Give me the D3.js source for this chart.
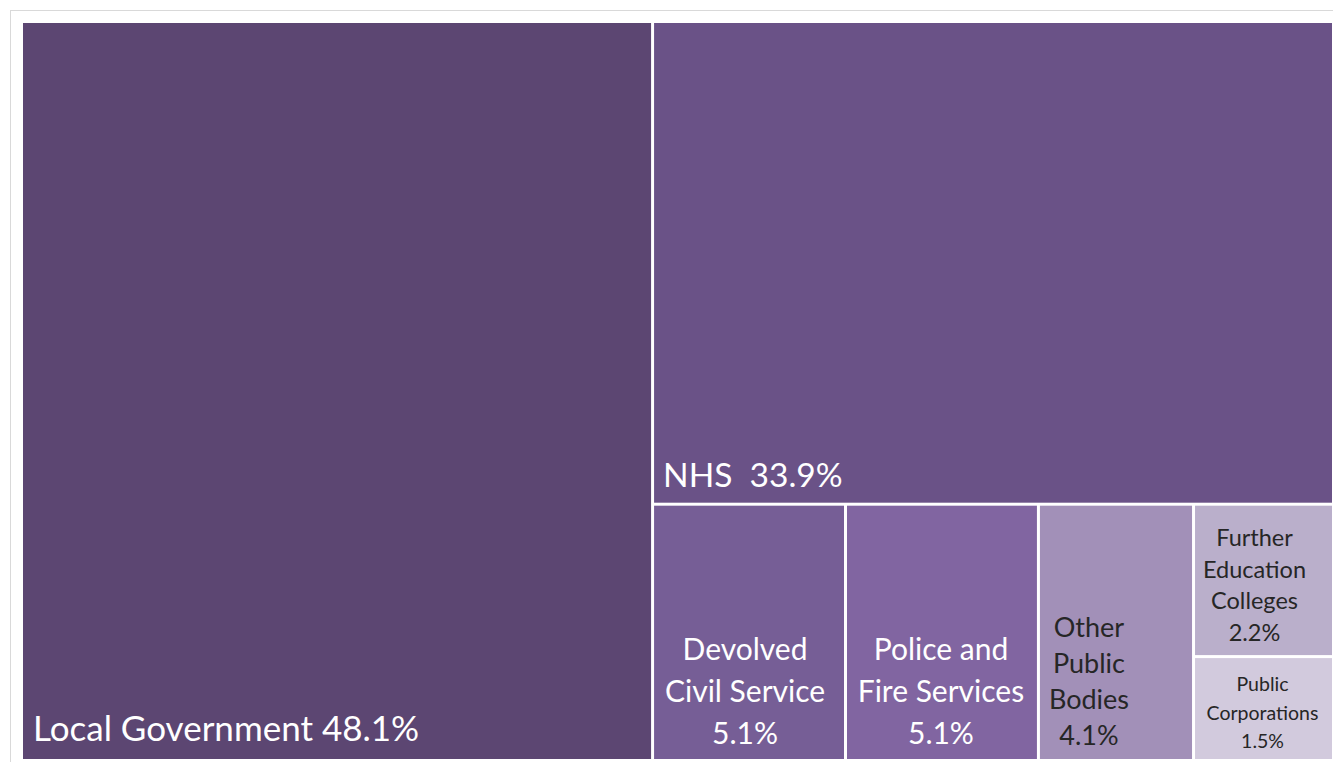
<!DOCTYPE html>
<html>
<head>
<meta charset="utf-8">
<script src="https://cdn.jsdelivr.net/npm/d3@7"></script>
<style>
  body { margin: 0; background: #fff; }
  svg text { font-family: Lato, "Open Sans", sans-serif; }
</style>
</head>
<body>
<div id="chart"></div>
<script>
// sectors and their share of employment (%)
var sectors = ["Local Government", "NHS", "Devolved Civil Service", "Police and Fire Services",
               "Other Public Bodies", "Further Education Colleges", "Public Corporations"];
var shares = [48.1, 33.9, 5.1, 5.1, 4.1, 2.2, 1.5];
var labelLines = [
  ["Local Government 48.1%"],
  ["NHS  33.9%"],
  ["Devolved", "Civil Service", "5.1%"],
  ["Police and", "Fire Services", "5.1%"],
  ["Other", "Public", "Bodies", "4.1%"],
  ["Further", "Education", "Colleges", "2.2%"],
  ["Public", "Corporations", "1.5%"]
];
var colors = ["#5c4672", "#6a5287", "#765e96", "#8165a1", "#a290b8", "#baafcb", "#d2cadd"];

var width = 1333, height = 762;

var svg = d3.select("#chart").append("svg")
  .attr("width", width)
  .attr("height", height);

// outer frame
svg.append("rect")
  .attr("x", 10.5).attr("y", 10.5)
  .attr("width", 1400).attr("height", 900)
  .style("fill", "none")
  .style("stroke", "#d9d9d9");

function leaf(i) { return { name: sectors[i], value: shares[i], idx: i }; }

// nesting so slice/dice gives the same layout as the original
var tree = {
  name: "all", children: [
    leaf(0),
    { name: "rest", children: [
      leaf(1),
      { name: "bottom", children: [
        leaf(2), leaf(3), leaf(4),
        { name: "small", children: [leaf(5), leaf(6)] }
      ]}
    ]}
  ]
};

var root = d3.hierarchy(tree).sum(function(d) { return d.children ? 0 : d.value; });

d3.treemap()
  .tile(d3.treemapSliceDice)
  .size([1309, 736])
  .paddingInner(3)
  (root);

var g = svg.append("g").attr("transform", "translate(23,23)");

var cell = g.selectAll(".cell")
  .data(root.leaves())
  .enter().append("g")
  .attr("class", "cell");

cell.append("rect")
  .attr("x", function(d) { return d.x0; })
  .attr("y", function(d) { return d.y0; })
  .attr("width", function(d) { return d.x1 - d.x0; })
  .attr("height", function(d) { return d.y1 - d.y0; })
  .style("fill", function(d) { return colors[d.data.idx]; });

// label settings per cell: font size, line height, anchor, colour, x offset
var labelStyle = [
  { size: 35, lh: 0, anchor: "start", fill: "#fff", dx: 10, bottom: 18 },
  { size: 33.5, lh: 0, anchor: "start", fill: "#fff", dx: 9, bottom: 16 },
  { size: 30, lh: 42, anchor: "middle", fill: "#fff", dx: -4, bottom: 15 },
  { size: 30, lh: 42, anchor: "middle", fill: "#fff", dx: -1, bottom: 15 },
  { size: 27, lh: 36, anchor: "middle", fill: "#262626", dx: -27, bottom: 14 },
  { size: 23.5, lh: 31.5, anchor: "middle", fill: "#262626", dx: -9, bottom: 15 },
  { size: 19.5, lh: 28.5, anchor: "middle", fill: "#262626", dx: -1, bottom: 11 }
];

cell.each(function(d) {
  var s = labelStyle[d.data.idx];
  var lines = labelLines[d.data.idx];
  var x = s.anchor === "start" ? d.x0 + s.dx : (d.x0 + d.x1) / 2 + s.dx;
  var yLast = d.y1 - s.bottom;
  if (d.data.idx === 5) yLast = d.y0 + 135;
  var t = d3.select(this).append("text")
    .attr("text-anchor", s.anchor)
    .style("font-size", s.size + "px")
    .style("fill", s.fill);
  lines.forEach(function(line, i) {
    t.append("tspan")
      .attr("x", x)
      .attr("y", yLast - (lines.length - 1 - i) * s.lh)
      .style("white-space", "pre")
      .text(line);
  });
});
</script>
</body>
</html>
